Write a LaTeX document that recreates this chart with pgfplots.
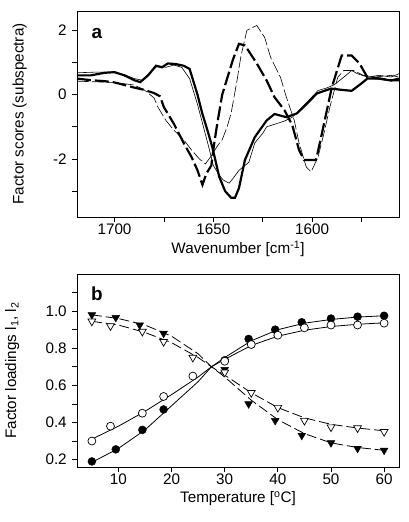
\documentclass[border=0pt]{standalone}
\usepackage{fontspec}
\setmainfont{Liberation Sans}
\usepackage{pgfplots}
\pgfplotsset{compat=1.18}
\pgfplotsset{
  myax/.style={
    scale only axis,
    axis line style={line width=0.9pt},
    tick style={line width=0.8pt, black},
    tick align=outside,
    xtick pos=bottom, ytick pos=left,
    major tick length=5bp, minor tick length=5bp,
    /pgf/number format/assume math mode=true,
    /pgf/number format/set thousands separator={},
    xticklabel style={yshift=3bp},
    xlabel shift=-4bp,
    ylabel shift=16bp,
    every axis plot/.append style={black},
  }
}
\begin{document}
\fontsize{15.3}{18}\selectfont
\begin{tikzpicture}
\useasboundingbox (0,0) rectangle (409bp,522bp);
% ---------- panel a ----------
\begin{axis}[myax, at={(77bp,511bp)}, anchor=north west,
  width=322bp, height=206bp,
  x dir=reverse, xmin=1556, xmax=1719, ymin=-3.8, ymax=2.6,
  xtick={1600,1650,1700}, minor xtick={1575,1625,1675},
  ytick={-2,0,2}, minor ytick={-3,-1,1},
  xlabel={Wavenumber [cm\textsuperscript{-1}]},
  ylabel={Factor scores (subspectra)},
  ]
% thick solid
\addplot[line width=2.2pt] coordinates {
(1719,0.6) (1712,0.6) (1705,0.68) (1700,0.7) (1695,0.6) (1690,0.45) (1687,0.39)
(1683,0.6) (1679,0.9) (1676,0.85) (1673,0.97) (1669,0.95) (1665,0.9) (1662,0.8)
(1660,0.4) (1658,0.0) (1655.6,-0.58) (1653,-1.1) (1650.5,-1.63) (1647,-2.55)
(1644,-3.0) (1641,-3.2) (1639,-3.2) (1637,-2.9) (1634,-2.03) (1629,-1.32) (1623,-0.8)
(1619,-0.6) (1613,-0.7) (1607.6,-0.58) (1602.5,-0.27) (1597.5,0.04) (1590.4,0.19)
(1585,0.15) (1580,0.12) (1575,0.35) (1572,0.5) (1566,0.5) (1560,0.44) (1556,0.5)};
% thin solid
\addplot[line width=0.6pt] coordinates {
(1719,0.68) (1710,0.7) (1700,0.7) (1695,0.62) (1690,0.5) (1686,0.45) (1682,0.7)
(1678,0.9) (1674,0.85) (1670,0.92) (1666,0.85) (1662,0.5) (1658,-0.3) (1655,-1.0)
(1652,-1.7) (1650,-2.2) (1647,-2.5) (1645,-2.65) (1642,-2.75) (1640,-2.6)
(1637,-2.35) (1632,-2.1) (1629,-1.5) (1625,-1.2) (1623,-1.0) (1618,-0.9)
(1614,-0.82) (1610,-0.7) (1606,-0.45) (1602,-0.2) (1597,0.13) (1593,0.2) (1589,0.3)
(1584,0.54) (1580,0.75) (1577,0.65) (1572,0.55) (1566,0.6) (1560,0.55) (1556,0.65)};
% thick dashed
\addplot[line width=2.2pt, dash pattern=on 14pt off 4pt] coordinates {
(1719,0.5) (1712,0.45) (1705,0.42) (1700,0.38) (1695,0.3) (1690,0.22) (1685,0.15)
(1680,0.05) (1677,-0.05) (1675,-0.39) (1670,-0.9) (1665,-1.5) (1661,-1.94)
(1658,-2.35) (1655.5,-2.8) (1653.5,-2.45) (1651,-2.2) (1649.5,-1.5) (1648,-0.9)
(1645.5,0.0) (1642,0.7) (1640,1.1) (1637,1.58) (1634,1.53) (1630,1.16) (1628,0.97)
(1623,0.44) (1619,-0.08) (1614,-0.48) (1610,-0.95) (1606.6,-1.72) (1604,-2.03)
(1598,-2.03) (1595,-1.2) (1590,0.23) (1585,1.22) (1580,1.22) (1576,0.97) (1572,0.54)
(1566,0.5) (1560,0.45) (1556,0.45)};
% thin dashed
\addplot[line width=0.6pt, dash pattern=on 12pt off 3pt] coordinates {
(1719,0.42) (1710,0.4) (1700,0.38) (1690,0.3) (1685,0.15) (1680,-0.1) (1678,-0.39)
(1674,-0.8) (1670,-1.1) (1665,-1.4) (1661,-1.72) (1657,-2.0) (1654,-2.15)
(1651,-1.9) (1648,-1.6) (1645.5,-1.4) (1643,-1.0) (1641,-0.58) (1638,0.44)
(1636,1.2) (1633,2.0) (1628,2.15) (1624,1.78) (1621,1.16) (1616,0.54) (1613,-0.08)
(1609,-0.8) (1606.6,-1.5) (1603,-2.24) (1600.5,-2.4) (1597,-1.94) (1594,-1.2)
(1591,-0.39) (1587,0.54) (1584,0.75) (1579,0.75) (1574,0.6) (1568,0.55) (1560,0.6)
(1556,0.55)};
\node[font=\fontsize{19}{20}\selectfont\bfseries] at (rel axis cs:0.062,0.893) {a};
\end{axis}
% ---------- panel b ----------
\begin{axis}[myax, at={(77bp,248bp)}, anchor=north west,
  width=322bp, height=193bp,
  xmin=2.2, xmax=62.8, ymin=0.16, ymax=1.2,
  xtick={10,20,30,40,50,60},
  ytick={0.2,0.4,0.6,0.8,1.0}, minor ytick={0.3,0.5,0.7,0.9,1.1},
  yticklabel style={/pgf/number format/.cd, fixed, fixed zerofill, precision=1},
  xlabel={Temperature [\textsuperscript{o}C]},
  ylabel={Factor loadings l\textsubscript{1}, l\textsubscript{2}},
  ]
% fit curves
\addplot[line width=0.8pt] coordinates {
(5,0.185) (10,0.26) (15,0.36) (20,0.49) (25,0.62) (27.5,0.70) (30,0.75) (35,0.84)
(40,0.90) (45,0.935) (50,0.955) (55,0.968) (60,0.975)};
\addplot[line width=0.8pt] coordinates {
(5,0.31) (10,0.38) (15,0.46) (20,0.55) (25,0.645) (27.5,0.70) (30,0.74) (35,0.815)
(40,0.865) (45,0.897) (50,0.917) (55,0.929) (60,0.937)};
\addplot[line width=0.8pt, dash pattern=on 10pt off 4pt] coordinates {
(5,0.98) (10,0.96) (15,0.925) (20,0.865) (25,0.77) (27.5,0.70) (30,0.645) (35,0.52)
(40,0.415) (45,0.34) (50,0.29) (55,0.265) (60,0.25)};
\addplot[line width=0.8pt, dash pattern=on 10pt off 4pt] coordinates {
(5,0.945) (10,0.925) (15,0.885) (20,0.83) (25,0.75) (27.5,0.70) (30,0.655) (35,0.56)
(40,0.48) (45,0.425) (50,0.39) (55,0.37) (60,0.355)};
% markers
\addplot[only marks, mark=*, mark size=4pt] coordinates {
(5,0.19) (9.5,0.255) (14.5,0.36) (18.5,0.47) (30,0.735) (34.5,0.85) (39.5,0.90)
(44.5,0.94) (50,0.96) (55,0.97) (60,0.975)};
\addplot[only marks, mark=*, mark size=4pt, mark options={fill=white, line width=0.7pt}] coordinates {
(5,0.30) (8.5,0.38) (14.5,0.45) (18.5,0.54) (24,0.65) (30,0.73) (35,0.82) (40,0.87)
(45,0.91) (50,0.925) (55,0.925) (60,0.935)};
\addplot[only marks, mark=triangle*, mark size=4.5pt, mark options={rotate=180}] coordinates {
(5,0.98) (9.5,0.965) (14,0.925) (18.5,0.88) (30,0.685) (34.5,0.50) (39.5,0.41)
(44.5,0.33) (50,0.29) (55,0.26) (60,0.25)};
\addplot[only marks, mark=triangle*, mark size=4.5pt, mark options={rotate=180, fill=white, line width=0.7pt}] coordinates {
(5,0.945) (8.5,0.92) (14.5,0.89) (18.5,0.835) (24,0.75) (30,0.67) (35,0.56) (40,0.48)
(45,0.41) (50,0.375) (55,0.37) (60,0.35)};
\node[font=\fontsize{19}{20}\selectfont\bfseries] at (rel axis cs:0.062,0.90) {b};
\end{axis}
\end{tikzpicture}
\end{document}
